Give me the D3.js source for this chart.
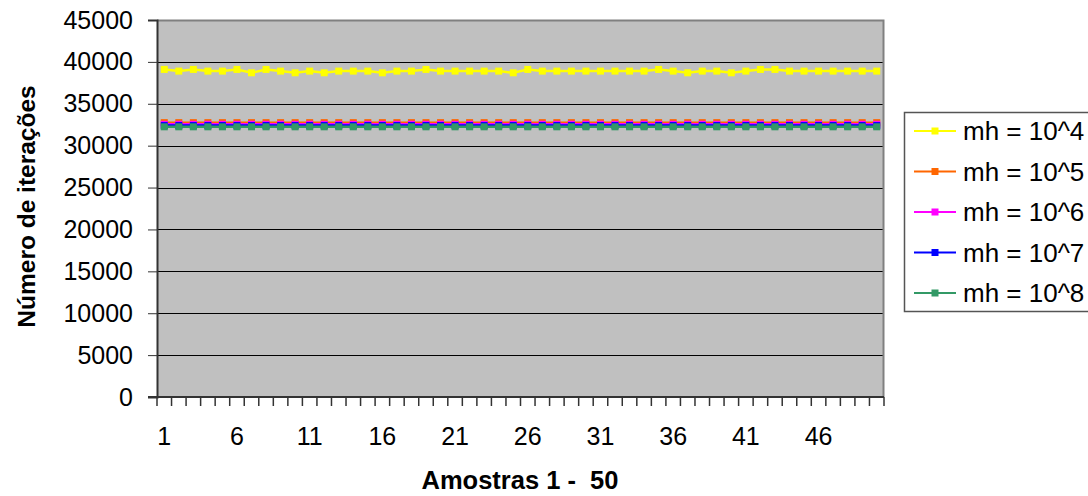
<!DOCTYPE html>
<html>
<head>
<meta charset="utf-8">
<script src="https://cdn.jsdelivr.net/npm/d3@7"></script>
<style>
  html, body { margin: 0; padding: 0; background: #ffffff; }
  svg { display: block; }
  text { font-family: "Liberation Sans", Arial, sans-serif; fill: #000; }
</style>
</head>
<body>
<svg id="chart" width="1088" height="496"></svg>
<script>
// ---- data ----
const samples = [1,2,3,4,5,6,7,8,9,10,11,12,13,14,15,16,17,18,19,20,21,22,23,24,25,
                 26,27,28,29,30,31,32,33,34,35,36,37,38,39,40,41,42,43,44,45,46,47,48,49,50];
const xTickLabels = [1, 6, 11, 16, 21, 26, 31, 36, 41, 46];
const yTicks = [0, 5000, 10000, 15000, 20000, 25000, 30000, 35000, 40000, 45000];
const seriesNames = ["mh = 10^4", "mh = 10^5", "mh = 10^6", "mh = 10^7", "mh = 10^8"];
const mh4 = [39100,38900,39100,38900,38900,39100,38700,39100,38900,38700,
             38900,38700,38900,38900,38900,38700,38900,38900,39100,38900,
             38900,38900,38900,38900,38700,39100,38900,38900,38900,38900,
             38900,38900,38900,38900,39100,38900,38700,38900,38900,38700,
             38900,39100,39100,38900,38900,38900,38900,38900,38900,38900];
const mh5 = [32750,32750,32750,32750,32750,32750,32750,32750,32750,32750,
             32750,32750,32750,32750,32750,32750,32750,32750,32750,32750,
             32750,32750,32750,32750,32750,32750,32750,32750,32750,32750,
             32750,32750,32750,32750,32750,32750,32750,32750,32750,32750,
             32750,32750,32750,32750,32750,32750,32750,32750,32750,32750];
const mh6 = [32550,32550,32550,32550,32550,32550,32550,32550,32550,32550,
             32550,32550,32550,32550,32550,32550,32550,32550,32550,32550,
             32550,32550,32550,32550,32550,32550,32550,32550,32550,32550,
             32550,32550,32550,32550,32550,32550,32550,32550,32550,32550,
             32550,32550,32550,32550,32550,32550,32550,32550,32550,32550];
const mh7 = [32400,32400,32400,32400,32400,32400,32400,32400,32400,32400,
             32400,32400,32400,32400,32400,32400,32400,32400,32400,32400,
             32400,32400,32400,32400,32400,32400,32400,32400,32400,32400,
             32400,32400,32400,32400,32400,32400,32400,32400,32400,32400,
             32400,32400,32400,32400,32400,32400,32400,32400,32400,32400];
const mh8 = [32250,32250,32250,32250,32250,32250,32250,32250,32250,32250,
             32250,32250,32250,32250,32250,32250,32250,32250,32250,32250,
             32250,32250,32250,32250,32250,32250,32250,32250,32250,32250,
             32250,32250,32250,32250,32250,32250,32250,32250,32250,32250,
             32250,32250,32250,32250,32250,32250,32250,32250,32250,32250];
const seriesColors = ["#FFFF00", "#FF6600", "#FF00FF", "#0000FF", "#339966"];
const seriesValues = [mh4, mh5, mh6, mh7, mh8];

// ---- layout ----
const plot = { left: 157, right: 884, top: 20, bottom: 397 };
const svg = d3.select("#chart");

const x = d3.scaleBand().domain(samples).range([plot.left, plot.right]).paddingInner(0).paddingOuter(0);
const y = d3.scaleLinear().domain([0, 45000]).range([plot.bottom, plot.top]);

// plot background
svg.append("rect")
  .attr("x", plot.left).attr("y", plot.top)
  .attr("width", plot.right - plot.left).attr("height", plot.bottom - plot.top)
  .attr("fill", "#C0C0C0");

// gridlines
svg.append("g").selectAll("line").data(yTicks.filter(d => d > 0 && d < 45000)).join("line")
  .attr("x1", plot.left).attr("x2", plot.right)
  .attr("y1", d => Math.round(y(d)) + 0.5).attr("y2", d => Math.round(y(d)) + 0.5)
  .attr("stroke", "#000").attr("stroke-width", 1);

// top/right border
svg.append("path")
  .attr("d", `M${plot.left},${plot.top + 0.5}H${plot.right - 0.5}V${plot.bottom}`)
  .attr("fill", "none").attr("stroke", "#808080").attr("stroke-width", 2);

// y axis
const yAxis = d3.axisLeft(y).tickValues(yTicks).tickSize(9).tickPadding(15).tickFormat(d => String(d));
const gy = svg.append("g").attr("transform", `translate(${plot.left},0)`).call(yAxis);
gy.select(".domain").attr("stroke", "#333").attr("stroke-width", 2);
gy.selectAll(".tick line").attr("stroke", "#333");
gy.selectAll(".tick text").attr("font-size", 25).attr("font-family", "Liberation Sans, Arial, sans-serif").attr("fill", "#000");

// x axis: ticks between categories
const boundaries = samples.map(s => x(s)).concat([x(samples[samples.length - 1]) + x.bandwidth()]);
const gx = svg.append("g");
gx.selectAll("line.tk").data(boundaries).join("line")
  .attr("class", "tk")
  .attr("x1", d => d).attr("x2", d => d)
  .attr("y1", plot.bottom).attr("y2", plot.bottom + 9)
  .attr("stroke", "#333").attr("stroke-width", 1.5);
gx.append("line")
  .attr("x1", plot.left - 9).attr("x2", plot.right)
  .attr("y1", plot.bottom).attr("y2", plot.bottom)
  .attr("stroke", "#333").attr("stroke-width", 2);
gx.selectAll("text").data(xTickLabels).join("text")
  .attr("x", d => x(d) + x.bandwidth() / 2)
  .attr("y", 445)
  .attr("text-anchor", "middle")
  .attr("font-size", 25)
  .text(d => d);

// series
const line = d3.line().x((d, i) => x(samples[i]) + x.bandwidth() / 2).y(d => y(d));
seriesValues.forEach((vals, si) => {
  const g = svg.append("g");
  g.append("path").datum(vals).attr("d", line)
    .attr("fill", "none").attr("stroke", seriesColors[si]).attr("stroke-width", 2.5);
  g.selectAll("rect").data(vals).join("rect")
    .attr("x", (d, i) => x(samples[i]) + x.bandwidth() / 2 - 3.5)
    .attr("y", d => y(d) - 3.5)
    .attr("width", 7).attr("height", 7)
    .attr("fill", seriesColors[si]);
});

// axis titles
svg.append("text")
  .attr("transform", `translate(35,${(plot.top + plot.bottom) / 2 - 2}) rotate(-90)`)
  .attr("text-anchor", "middle")
  .attr("font-size", 24.5).attr("font-weight", "bold")
  .text("Número de iterações");
svg.append("text")
  .attr("x", 520).attr("y", 489)
  .attr("text-anchor", "middle")
  .attr("font-size", 25.5).attr("font-weight", "bold")
  .attr("xml:space", "preserve")
  .style("white-space", "pre")
  .text("Amostras 1 -  50");

// legend
const legend = { x: 904, y: 112, w: 200, rowH: 40.5 };
svg.append("rect")
  .attr("x", legend.x + 0.5).attr("y", legend.y + 0.5)
  .attr("width", legend.w).attr("height", 199)
  .attr("fill", "#fff").attr("stroke", "#555").attr("stroke-width", 1.5);
seriesNames.forEach((name, i) => {
  const cy = legend.y + 19 + i * legend.rowH;
  svg.append("line")
    .attr("x1", legend.x + 10).attr("x2", legend.x + 52)
    .attr("y1", cy).attr("y2", cy)
    .attr("stroke", seriesColors[i]).attr("stroke-width", 2);
  svg.append("rect")
    .attr("x", legend.x + 31 - 3.5).attr("y", cy - 3.5)
    .attr("width", 7).attr("height", 7)
    .attr("fill", seriesColors[i]);
  svg.append("text")
    .attr("x", legend.x + 59).attr("y", cy + 9)
    .attr("font-size", 26)
    .text(name);
});
</script>
</body>
</html>
